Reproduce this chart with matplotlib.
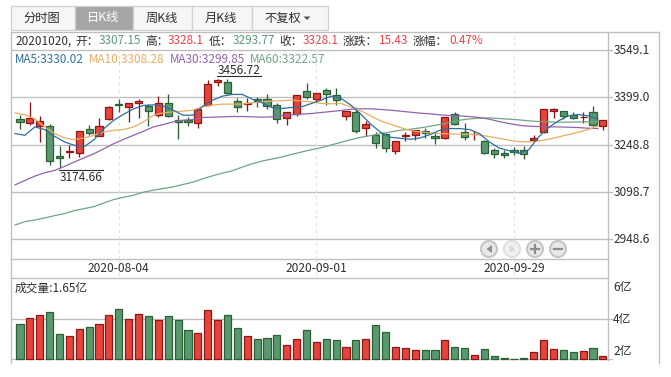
import matplotlib
matplotlib.use("Agg")
import matplotlib.pyplot as plt
from matplotlib.patches import Rectangle, Circle, Polygon

plt.rcParams['font.family'] = ['Noto Sans CJK SC', 'DejaVu Sans']

# ─── data ────────────────────────────────────────────────────────────────
opens = [3331.8, 3318.0, 3308.4, 3309.5, 3211.5, 3225.4, 3222.2, 3299.9, 3277.5, 3331.8,
         3376.5, 3366.9, 3381.9, 3370.2, 3344.6, 3379.8, 3328.6, 3328.6, 3319.0, 3374.4,
         3446.8, 3446.8, 3386.1, 3377.6, 3392.5, 3392.5, 3373.4, 3335.0, 3346.7, 3418.1,
         3392.5, 3421.3, 3405.3, 3341.4, 3351.0, 3303.1, 3280.7, 3284.0, 3229.6, 3276.5,
         3280.7, 3293.5, 3277.6, 3271.2, 3347.8, 3290.3, 3281.8, 3261.6, 3232.9, 3223.3,
         3232.9, 3232.9, 3264.8, 3290.3, 3354.2, 3354.2, 3344.6, 3336.1, 3351.0, 3307.15]
closes = [3321.2, 3335.0, 3325.4, 3197.7, 3207.3, 3227.5, 3293.5, 3286.0, 3309.5, 3366.9,
          3373.4, 3379.8, 3386.1, 3354.2, 3379.8, 3341.4, 3322.2, 3322.2, 3360.6, 3440.4,
          3453.2, 3411.7, 3366.9, 3379.8, 3386.1, 3372.3, 3331.8, 3351.0, 3405.3, 3398.9,
          3411.7, 3408.5, 3389.3, 3356.3, 3293.5, 3315.9, 3255.2, 3239.2, 3261.6, 3278.6,
          3296.7, 3287.1, 3271.2, 3338.2, 3315.9, 3274.4, 3284.0, 3223.3, 3220.1, 3216.9,
          3226.5, 3220.1, 3271.2, 3360.6, 3360.6, 3341.4, 3335.0, 3338.2, 3312.7, 3328.1]
highs = [3342.5, 3382.9, 3339.3, 3315.9, 3243.5, 3246.7, 3293.5, 3312.7, 3335.0, 3370.2,
         3392.5, 3379.8, 3392.5, 3376.5, 3402.1, 3408.5, 3344.6, 3338.2, 3363.8, 3453.2,
         3456.72, 3456.4, 3395.7, 3395.7, 3398.9, 3409.6, 3379.8, 3351.0, 3405.3, 3443.6,
         3411.7, 3427.6, 3427.6, 3356.3, 3369.1, 3325.5, 3290.3, 3287.1, 3261.6, 3290.3,
         3296.7, 3303.1, 3290.3, 3338.2, 3351.0, 3319.1, 3293.5, 3264.8, 3239.2, 3230.7,
         3242.4, 3245.6, 3280.7, 3360.6, 3363.8, 3354.2, 3351.0, 3351.0, 3370.2, 3328.1]
lows = [3299.9, 3312.7, 3257.3, 3184.9, 3174.66, 3206.2, 3209.4, 3280.7, 3277.5, 3328.6,
        3353.1, 3321.2, 3335.0, 3309.5, 3337.1, 3338.2, 3265.8, 3309.5, 3303.1, 3371.2,
        3434.0, 3408.5, 3351.0, 3356.3, 3369.1, 3362.7, 3319.0, 3311.6, 3340.3, 3392.5,
        3382.9, 3373.4, 3373.4, 3328.7, 3287.1, 3277.6, 3239.2, 3226.5, 3220.1, 3261.6,
        3264.8, 3271.2, 3249.9, 3268.0, 3312.7, 3264.8, 3264.8, 3220.1, 3207.3, 3207.3,
        3216.9, 3203.0, 3261.6, 3287.1, 3335.0, 3331.9, 3331.9, 3319.1, 3309.5, 3293.77]

ma5 = [3283.9, 3278.6, 3305.2, 3296.7, 3275.4, 3257.3, 3246.7, 3242.4, 3264.8, 3299.9,
       3326.5, 3345.7, 3362.7, 3373.4, 3375.5, 3371.2, 3358.4, 3342.5, 3342.5, 3371.2,
       3390.4, 3403.2, 3408.5, 3408.5, 3393.6, 3381.9, 3366.9, 3363.8, 3366.9, 3369.1,
       3379.7, 3390.4, 3403.2, 3395.7, 3374.4, 3345.7, 3313.7, 3288.2, 3272.2, 3269.0,
       3265.8, 3270.1, 3280.7, 3294.6, 3299.9, 3299.9, 3296.7, 3283.9, 3257.3, 3238.1,
       3229.6, 3221.1, 3232.8, 3273.3, 3303.1, 3324.4, 3340.3, 3344.6, 3340.3, 3330.02]
ma10 = [3349.9, 3343.6, 3330.8, 3305.2, 3283.9, 3270.1, 3264.8, 3270.1, 3278.6, 3289.2,
        3294.6, 3296.7, 3305.2, 3321.2, 3342.5, 3349.9, 3353.1, 3355.2, 3358.4, 3369.1,
        3374.4, 3377.6, 3377.6, 3377.6, 3381.9, 3385.1, 3387.2, 3388.3, 3390.4, 3387.2,
        3385.1, 3379.7, 3378.7, 3379.7, 3369.1, 3356.3, 3340.3, 3324.4, 3313.7, 3303.1,
        3293.5, 3289.2, 3286.0, 3283.9, 3282.8, 3281.8, 3281.8, 3279.7, 3274.3, 3269.0,
        3262.6, 3258.4, 3257.3, 3260.5, 3265.8, 3273.3, 3280.7, 3288.2, 3296.7, 3308.28]
ma30 = [3121.0, 3134.9, 3148.7, 3159.4, 3166.8, 3179.6, 3193.4, 3207.3, 3220.0, 3236.0,
        3252.0, 3265.8, 3278.6, 3291.4, 3305.2, 3312.7, 3321.2, 3326.5, 3328.6, 3335.0,
        3336.1, 3337.2, 3338.2, 3338.2, 3337.2, 3336.1, 3337.2, 3341.4, 3343.6, 3345.7,
        3347.8, 3351.0, 3354.2, 3357.4, 3361.6, 3362.7, 3362.7, 3360.6, 3358.4, 3355.3,
        3352.1, 3348.9, 3346.7, 3343.6, 3341.4, 3340.3, 3338.2, 3335.0, 3329.7, 3322.2,
        3315.9, 3310.5, 3307.3, 3306.3, 3305.2, 3305.2, 3304.2, 3303.1, 3301.0, 3299.85]
ma60 = [2993.3, 3003.9, 3009.2, 3015.6, 3023.1, 3029.5, 3039.0, 3045.4, 3051.8, 3063.5,
        3074.2, 3081.6, 3088.0, 3097.6, 3104.0, 3109.3, 3114.6, 3122.1, 3129.5, 3140.2,
        3149.8, 3158.3, 3165.7, 3177.5, 3188.1, 3196.6, 3203.0, 3209.4, 3217.9, 3225.4,
        3232.8, 3239.2, 3247.7, 3256.2, 3264.8, 3272.2, 3277.5, 3283.9, 3289.2, 3294.6,
        3297.8, 3302.0, 3307.3, 3312.7, 3319.0, 3326.5, 3330.8, 3332.9, 3334.0, 3331.8,
        3329.7, 3327.6, 3324.4, 3322.3, 3321.2, 3320.1, 3320.1, 3321.2, 3321.2, 3322.57]

volumes = [3.76, 4.05, 4.20, 4.34, 3.27, 3.17, 3.51, 3.61, 3.76, 4.20,
           4.49, 4.00, 4.24, 4.15, 3.95, 4.15, 3.95, 3.46, 3.32, 4.44,
           3.95, 4.20, 3.56, 3.17, 2.98, 3.07, 3.22, 2.73, 3.02, 3.46,
           2.83, 2.98, 2.93, 2.63, 2.93, 3.02, 3.71, 3.37, 2.63, 2.54,
           2.44, 2.44, 2.44, 2.93, 2.59, 2.54, 2.20, 2.49, 2.15, 2.05,
           2.00, 2.05, 2.34, 2.93, 2.49, 2.44, 2.34, 2.39, 2.54, 2.15]

price_ticks = [3549.1, 3399.0, 3248.8, 3098.7, 2948.6]
vol_ticks = [2, 4, 6]
vol_tick_labels = ["2亿", "4亿", "6亿"]
date_pos = [10, 30, 50]
date_labels = ["2020-08-04", "2020-09-01", "2020-09-29"]
tabs = ["分时图", "日K线", "周K线", "月K线", "不复权"]

# ─── colours ─────────────────────────────────────────────────────────────
GRID = "#BEBEBE"
TXT = "#2E2E2E"
RED, RED_E = "#E5443A", "#8E1616"
GRN, GRN_E = "#5A9870", "#2B6033"
BLUE, ORANGE, PURPLE, SAGE = "#2F6D9E", "#E9AD62", "#9263AC", "#70A585"
TXT_GRN, TXT_RED = "#5C9A76", "#E8424A"

W, H = 671, 377
L, R, RR = 10.5, 608.3, 659.3
TOP, XA_T, XA_B, VOL_B = 31.7, 259.3, 278.3, 359.3
STEP = 9.88
X0 = 20.0  # first candle centre in px


def px_axes(fig, x0, x1, y0, y1):
    return fig.add_axes([x0 / W, 1 - y1 / H, (x1 - x0) / W, (y1 - y0) / H])


fig = plt.figure(figsize=(W / 100, H / 100), dpi=100, facecolor="white")

# page chrome, in pixel coordinates
bg = fig.add_axes([0, 0, 1, 1], zorder=0)
bg.set_xlim(0, W)
bg.set_ylim(H, 0)
bg.axis("off")

# tabs
tab_edges = [10.5, 75, 133, 192, 251.5, 327.5]
for k, name in enumerate(tabs):
    sel = k == 1
    bg.add_patch(Rectangle((tab_edges[k], 5.5), tab_edges[k + 1] - tab_edges[k], 24.5,
                           fc="#A6A6A6" if sel else "#F6F6F6", ec="#D0D0D0", lw=0.9))
    cx = (tab_edges[k] + tab_edges[k + 1]) / 2 - 1
    if k == 4:
        cx -= 6
    bg.text(cx, 18, name, ha="center", va="center", fontsize=8.8,
            color="white" if sel else TXT)
bg.add_patch(Polygon([[303.5, 16.5], [310.5, 16.5], [307, 20]], fc="#555555", ec="none"))

# frame and grid
for y in [TOP, XA_T, XA_B]:
    bg.plot([L, R], [y, y], color=GRID, lw=0.95)
bg.plot([R, RR], [TOP, TOP], color=GRID, lw=0.95)
bg.plot([L, L], [TOP, 363], color=GRID, lw=0.95)
bg.plot([R, R], [TOP, 359.5], color=GRID, lw=0.95)
bg.plot([RR, RR], [TOP, 363], color=GRID, lw=0.95)

# header lines: (x, text, colour)
info_y = 41
info = [(15, "20201020,", TXT), (75, "开：", TXT), (99, "3307.15", TXT_GRN),
        (145, "高：", TXT), (168, "3328.1", TXT_RED), (209, "低：", TXT),
        (232.5, "3293.77", TXT_GRN), (279, "收：", TXT), (303, "3328.1", TXT_RED),
        (343, "涨跌：", TXT), (379, "15.43", TXT_RED), (413, "涨幅：", TXT),
        (449, "0.47%", TXT_RED)]
for x, s, c in info:
    bg.text(x, info_y, s, ha="left", va="center", fontsize=8.45, color=c)
ma_text = [(15, "MA5:3330.02", BLUE), (89, "MA10:3308.28", ORANGE),
           (169.5, "MA30:3299.85", PURPLE), (250, "MA60:3322.57", SAGE)]
for x, s, c in ma_text:
    bg.text(x, 59.5, s, ha="left", va="center", fontsize=8.45, color=c)

bg.text(15, 288, "成交量:1.65亿", ha="left", va="center", fontsize=8.45, color=TXT)

# zoom / pan buttons
for k, cx in enumerate([489, 512, 535, 558]):
    fade = k == 1
    bg.add_patch(Circle((cx, 249), 8, fc="#F2F2F2" if fade else "#E8E8E8",
                        ec="#E0E0E0" if fade else "#C6C6C6", lw=1.5))
ic = "#8C8C8C"
bg.add_patch(Polygon([[492, 245], [492, 253], [486.5, 249]], fc=ic, ec="none"))
bg.add_patch(Polygon([[509.5, 245], [509.5, 253], [515, 249]], fc="#D8D8D8", ec="none"))
bg.plot([531, 539], [249, 249], color=ic, lw=1.6)
bg.plot([535, 535], [245, 253], color=ic, lw=1.6)
bg.plot([554, 562], [249, 249], color=ic, lw=1.6)

# ─── candle panel ────────────────────────────────────────────────────────
ax = px_axes(fig, L, R, TOP, XA_T)
ax.set_zorder(1)
ax.patch.set_alpha(0)
ax.set_xlim((L - X0) / STEP, (R - X0) / STEP)
ax.set_ylim(3399 - (XA_T - 97.4) * 3.18, 3399 + (97.4 - TOP) * 3.18)
ax.axis("off")

for p in price_ticks:
    ax.axhline(p, color=GRID, lw=0.95, zorder=1)
for d in date_pos:
    ax.axvline(d, color="#E2E2E2", lw=0.8, ls=(0, (3, 3)), zorder=1)

for i, (o, h, l, c) in enumerate(zip(opens, highs, lows, closes)):
    up = c >= o
    ec = RED_E if up else GRN_E
    ax.vlines(i, l, h, color=ec, lw=0.95, zorder=2)
    ax.bar(i, abs(c - o), bottom=min(o, c), width=0.72, color=RED if up else GRN,
           edgecolor=ec, linewidth=0.9, zorder=3)

xs = [i - 0.5 for i in range(len(ma5))]
for vals, col in [(ma60, SAGE), (ma30, PURPLE), (ma10, ORANGE), (ma5, BLUE)]:
    ax.plot(xs, vals, color=col, lw=0.9, zorder=4)

# high / low marks
bg.text(239, 70.5, f"{max(highs):.2f}", ha="center", va="center", fontsize=8.6, color=TXT)
bg.plot([217, 260.7], [76, 76], color=TXT, lw=0.8)
bg.text(81, 177.5, f"{min(lows):.2f}", ha="center", va="center", fontsize=8.6, color=TXT)
bg.plot([59, 103], [170, 170], color=TXT, lw=0.8)

for p in price_ticks:
    y = 97.4 - (p - 3399) / 3.18
    bg.plot([R, 611.7], [y, y], color=GRID, lw=0.95)
    bg.text(613.3, y + 0.5, f"{p:.1f}", ha="left", va="center", fontsize=8.6, color=TXT)

for d, s in zip(date_pos, date_labels):
    x = X0 + d * STEP
    bg.plot([x, x], [XA_T, XA_B], color="#E2E2E2", lw=0.8, ls=(0, (3, 3)))
    bg.text(x, 269, s, ha="center", va="center", fontsize=8.6, color=TXT)

# ─── volume panel ────────────────────────────────────────────────────────
vax = px_axes(fig, L, R, XA_B, VOL_B)
vax.set_zorder(1)
vax.patch.set_alpha(0)
vax.set_xlim((L - X0) / STEP, (R - X0) / STEP)
vax.set_ylim(2, 6)
vax.axis("off")
vax.axhline(4, color=GRID, lw=0.95, zorder=1)
for i, v in enumerate(volumes):
    up = closes[i] >= opens[i]
    vax.bar(i, v - 2, bottom=2, width=0.72, color=RED if up else GRN,
            edgecolor=RED_E if up else GRN_E, linewidth=0.9, zorder=3, clip_on=False)

bg.plot([L, 611.7], [VOL_B, VOL_B], color=GRID, lw=0.95)
bg.plot([R, 611.7], [318.5, 318.5], color=GRID, lw=0.95)
for t, s, y in zip(vol_ticks, vol_tick_labels, [352, 320, 288]):
    bg.text(613.3, y, s, ha="left", va="center", fontsize=8.6, color=TXT)

fig.savefig("out.png", dpi=100)
